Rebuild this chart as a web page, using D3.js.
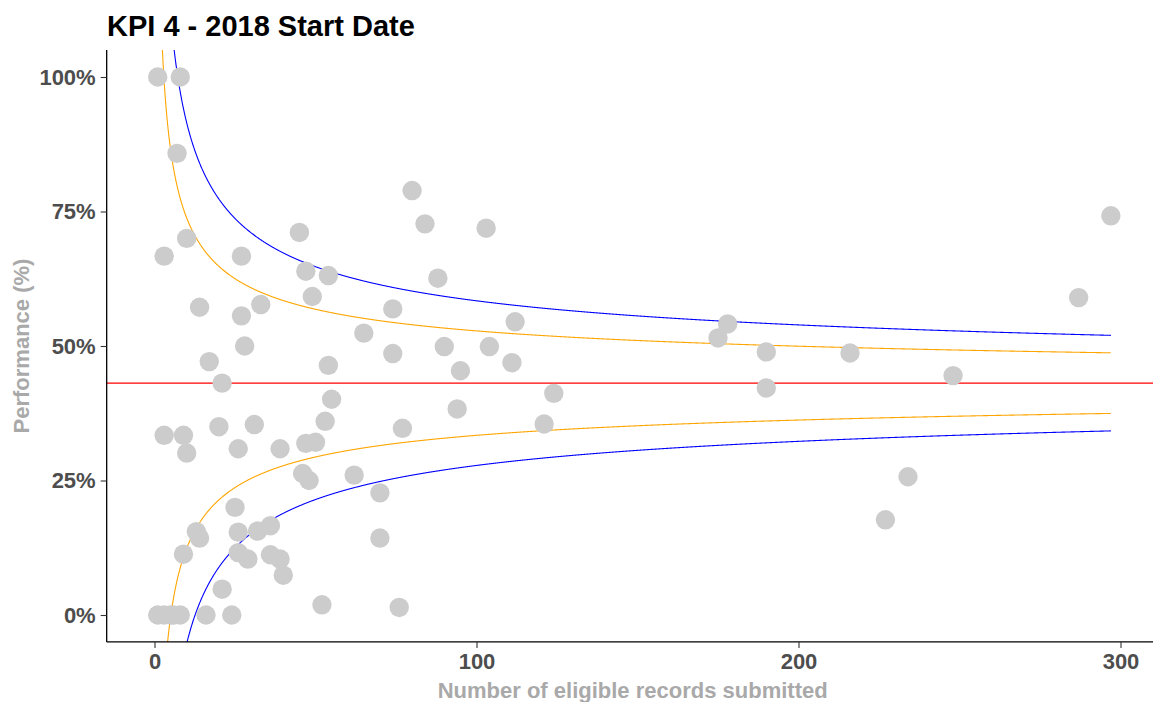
<!DOCTYPE html>
<html lang="en">
<head>
    <meta charset="UTF-8">
    <title>KPI 4 - 2018 Start Date</title>
    <script src="https://d3js.org/d3.v7.min.js"></script>
    <style>
        body { margin: 0; background: #fff; }
        text { font-family: "Liberation Sans", Arial, sans-serif; }
    </style>
</head>
<body>
    <div id="chart"></div>
    <script>
        // eligible records submitted (n) and performance for each provider
        var recordsSubmitted = [
            1, 8, 7, 45, 10, 3, 27, 47, 54, 49, 14, 27, 33, 74, 65, 28, 74, 17, 54, 21,
            55, 53, 3, 9, 10, 20, 31, 26, 39, 47, 50, 77, 46, 48, 62, 70, 25, 13, 14, 26,
            32, 36, 9, 26, 29, 36, 39, 40, 70, 21, 52, 76, 1, 3, 5, 6, 8, 16, 24, 80,
            84, 103, 88, 112, 90, 104, 111, 95, 124, 94, 121, 297, 287, 178, 175, 190, 216, 190, 248, 234,
            227
        ];
        var performance = [
            1.000, 1.000, 0.858, 0.711, 0.700, 0.667, 0.667, 0.639, 0.631, 0.592, 0.572, 0.556, 0.577, 0.569, 0.524, 0.500, 0.486, 0.471, 0.464, 0.431,
            0.401, 0.360, 0.334, 0.334, 0.301, 0.350, 0.354, 0.309, 0.309, 0.319, 0.321, 0.347, 0.263, 0.250, 0.260, 0.227, 0.200, 0.155, 0.143, 0.154,
            0.156, 0.166, 0.113, 0.116, 0.104, 0.112, 0.104, 0.074, 0.143, 0.048, 0.019, 0.014, 0, 0, 0, 0, 0, 0, 0, 0.789,
            0.727, 0.719, 0.626, 0.545, 0.499, 0.499, 0.469, 0.454, 0.412, 0.383, 0.355, 0.742, 0.590, 0.541, 0.515, 0.489, 0.487, 0.422, 0.445, 0.257,
            0.177
        ];
        var meanRate = 0.431;              // red reference line
        var limitZ = [1.96, 3.09];         // 95% (orange) and 99.8% (blue) control limits
        var limitColours = ["orange", "blue"];
        var xTicks = [0, 100, 200, 300];
        var yTicks = [0, 0.25, 0.5, 0.75, 1];

        document.addEventListener('DOMContentLoaded', function () {
            var points = recordsSubmitted.map((n, i) => ({n: n, p: performance[i]}));

            var svg = d3.select("#chart").append("svg")
                .attr("width", 1153)
                .attr("height", 702);

            var x = d3.scaleLinear().domain([0, 300]).range([154.5, 1120.5]);
            var y = d3.scaleLinear().domain([0, 1]).range([615, 77]);

            var maxN = d3.max(recordsSubmitted);
            var xPad = maxN * 0.05;
            var pLeft = x(-xPad), pRight = x(maxN + xPad);
            var pTop = y(1.05), pBottom = y(-0.05);

            svg.append("clipPath").attr("id", "panel")
                .append("rect")
                .attr("x", pLeft).attr("y", pTop)
                .attr("width", pRight - pLeft).attr("height", pBottom - pTop);

            var plot = svg.append("g").attr("clip-path", "url(#panel)");

            // mean line
            plot.append("line")
                .attr("x1", pLeft).attr("x2", pRight)
                .attr("y1", y(meanRate)).attr("y2", y(meanRate))
                .attr("stroke", "red")
                .attr("stroke-width", 1.1);

            // funnel control limits around the mean
            var nGrid = d3.range(0.5, maxN + 0.001, 0.1);
            var line = d3.line()
                .x(d => x(d.n))
                .y(d => y(d.v));

            limitZ.forEach(function (z, k) {
                [1, -1].forEach(function (sign) {
                    var vals = nGrid.map(n => ({
                        n: n,
                        v: meanRate + sign * z * Math.sqrt(meanRate * (1 - meanRate) / n)
                    })).filter(d => d.v > -0.3 && d.v < 1.3);
                    plot.append("path")
                        .attr("d", line(vals))
                        .attr("fill", "none")
                        .attr("stroke", limitColours[k])
                        .attr("stroke-width", 1.1);
                });
            });

            // provider points
            plot.selectAll(".pt")
                .data(points)
                .enter().append("circle")
                .attr("class", "pt")
                .attr("cx", d => x(d.n))
                .attr("cy", d => y(d.p))
                .attr("r", 9.7)
                .attr("fill", "#cccccc");

            // axes
            var xAxis = svg.append("g")
                .attr("transform", "translate(0," + pBottom + ")")
                .call(d3.axisBottom(x).tickValues(xTicks).tickSize(6).tickPadding(5));
            xAxis.select(".domain").attr("d", "M" + pLeft + ",0H" + pRight);

            var yAxis = svg.append("g")
                .attr("transform", "translate(" + pLeft + ",0)")
                .call(d3.axisLeft(y).tickValues(yTicks).tickFormat(d3.format(".0%")).tickSize(6).tickPadding(5));
            yAxis.select(".domain").attr("d", "M0," + pTop + "V" + pBottom);

            svg.selectAll(".domain").attr("stroke", "#000").attr("stroke-width", 1.3);
            svg.selectAll(".tick line").attr("stroke", "#333").attr("stroke-width", 1.1);
            svg.selectAll(".tick text")
                .attr("fill", "#4d4d4d")
                .style("font-size", "22px")
                .style("font-weight", "bold");

            svg.append("text")
                .attr("x", (pLeft + pRight) / 2)
                .attr("y", 698)
                .attr("text-anchor", "middle")
                .attr("fill", "#a9a9a9")
                .style("font-size", "22px")
                .style("font-weight", "bold")
                .text("Number of eligible records submitted");

            svg.append("text")
                .attr("transform", "translate(29," + (pTop + pBottom) / 2 + ") rotate(-90)")
                .attr("text-anchor", "middle")
                .attr("fill", "#a9a9a9")
                .style("font-size", "22px")
                .style("font-weight", "bold")
                .text("Performance (%)");

            svg.append("text")
                .attr("x", 107)
                .attr("y", 36)
                .attr("fill", "#000")
                .style("font-size", "29px")
                .style("font-weight", "bold")
                .text("KPI 4 - 2018 Start Date");
        });
    </script>
</body>
</html>
